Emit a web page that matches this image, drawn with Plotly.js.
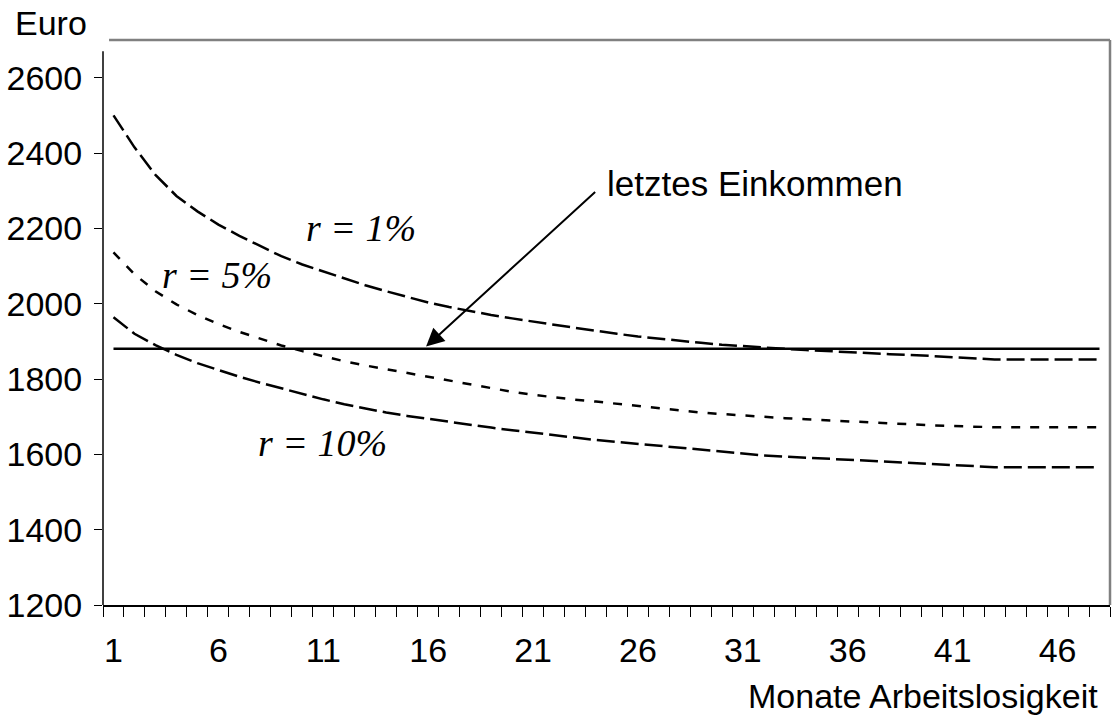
<!DOCTYPE html>
<html>
<head>
<meta charset="utf-8">
<script src="https://cdn.plot.ly/plotly-3.0.1.min.js"></script>
<style>
html,body{margin:0;padding:0;background:#fff;}
#chart{width:1114px;height:718px;}
</style>
</head>
<body>
<div id="chart"></div>
<script>
// Months of unemployment
const months = Array.from({length: 48}, (_, i) => i + 1);
const tickLabels = [1, 6, 11, 16, 21, 26, 31, 36, 41, 46];
const yTicks = [1200, 1400, 1600, 1800, 2000, 2200, 2400, 2600];

// r = 1%
const r1 = [2500, 2415, 2342, 2286, 2245, 2210, 2180, 2152, 2126, 2104,
            2085, 2066, 2049, 2033, 2017, 2003, 1991, 1980, 1970, 1961,
            1952, 1944, 1936, 1927, 1920, 1913, 1907, 1901, 1896, 1891,
            1887, 1883, 1880, 1877, 1874, 1871, 1869, 1866, 1864, 1861,
            1858, 1855, 1852, 1852, 1852, 1852, 1852, 1852];
// r = 5%
const r5 = [2136, 2078, 2033, 1998, 1970, 1946, 1925, 1906, 1889, 1874,
            1860, 1847, 1836, 1826, 1816, 1806, 1796, 1786, 1775, 1766,
            1758, 1751, 1745, 1740, 1734, 1728, 1722, 1716, 1711, 1707,
            1703, 1699, 1696, 1693, 1690, 1688, 1685, 1682, 1680, 1677,
            1675, 1673, 1672, 1672, 1672, 1672, 1672, 1672];
// r = 10%
const r10 = [1964, 1920, 1890, 1864, 1842, 1823, 1806, 1790, 1775, 1760,
             1746, 1733, 1721, 1711, 1702, 1694, 1686, 1678, 1671, 1664,
             1657, 1651, 1645, 1638, 1633, 1628, 1623, 1618, 1613, 1608,
             1602, 1597, 1594, 1591, 1588, 1586, 1583, 1580, 1577, 1574,
             1571, 1568, 1566, 1566, 1566, 1566, 1566, 1566];
// letztes Einkommen (last income)
const lastIncome = months.map(() => 1880);

const seriesNames = ['r = 1%', 'r = 5%', 'r = 10%', 'letztes Einkommen'];

const traces = [
  {x: months, y: r1, name: seriesNames[0], mode: 'lines',
   line: {color: '#000', width: 2.5, dash: '18px,6px'}},
  {x: months, y: r5, name: seriesNames[1], mode: 'lines',
   line: {color: '#000', width: 2.5, dash: '9px,10px'}},
  {x: months, y: r10, name: seriesNames[2], mode: 'lines',
   line: {color: '#000', width: 2.5, dash: '18px,6px'}},
  {x: months, y: lastIncome, name: seriesNames[3], mode: 'lines',
   line: {color: '#000', width: 2.5}}
];

const minorTicks = [];
for (let i = 0; i <= 48; i++) minorTicks.push(i + 0.5);

const serif = 'Liberation Serif, Times New Roman, serif';
const sans = 'Liberation Sans, Arial, sans-serif';

const layout = {
  width: 1114, height: 718,
  margin: {l: 103, r: 4, t: 40, b: 113},
  paper_bgcolor: '#fff', plot_bgcolor: '#fff',
  showlegend: false,
  font: {family: sans, color: '#000', size: 34},
  xaxis: {
    type: 'linear', range: [0.5, 48.5],
    tickvals: tickLabels, ticktext: tickLabels.map(String),
    ticks: 'outside', ticklen: 0, showgrid: false, zeroline: false,
    showline: true, linecolor: '#000', linewidth: 1.5,
    tickfont: {family: sans, size: 34, color: '#000'},
    ticklabelstandoff: 15,
    minor: {tickvals: minorTicks, ticks: 'outside', ticklen: 10, tickcolor: '#000', tickwidth: 1, showgrid: false}
  },
  yaxis: {
    range: [1200, 2700],
    tickvals: yTicks, ticktext: yTicks.map(String),
    ticks: 'outside', ticklen: 8, tickcolor: '#000', tickwidth: 1,
    showgrid: false, zeroline: false, showline: false,
    tickfont: {family: sans, size: 34, color: '#000'},
    ticklabelstandoff: 5
  },
  shapes: [
    {type: 'line', xref: 'paper', yref: 'y', x0: 0, x1: 0, y0: 1200, y1: 2670,
     line: {color: '#000', width: 1.5}},
    {type: 'line', xref: 'paper', yref: 'paper', x0: 0.006, x1: 1, y0: 1, y1: 1,
     line: {color: '#808080', width: 2.5}},
    {type: 'line', xref: 'paper', yref: 'paper', x0: 1, x1: 1, y0: 0, y1: 1,
     line: {color: '#808080', width: 2.5}}
  ],
  annotations: [
    {text: 'Euro', xref: 'paper', yref: 'paper', x: -0.0894, y: 1.03, xanchor: 'left', yanchor: 'middle',
     showarrow: false, font: {family: sans, size: 34, color: '#000'}},
    {text: 'Monate Arbeitslosigkeit', xref: 'paper', yref: 'paper', x: 0.99, y: -0.161, xanchor: 'right', yanchor: 'middle',
     showarrow: false, font: {family: sans, size: 34, color: '#000'}},
    {text: 'r = 1%', xref: 'x', yref: 'y', x: 12.8, y: 2200, showarrow: false,
     font: {family: serif, size: 38, color: '#000', style: 'italic'}},
    {text: 'r = 5%', xref: 'x', yref: 'y', x: 5.95, y: 2075, showarrow: false,
     font: {family: serif, size: 38, color: '#000', style: 'italic'}},
    {text: 'r = 10%', xref: 'x', yref: 'y', x: 10.94, y: 1630, showarrow: false,
     font: {family: serif, size: 38, color: '#000', style: 'italic'}},
    {text: 'letztes Einkommen', xref: 'x', yref: 'y', x: 31.6, y: 2319, showarrow: false,
     font: {family: sans, size: 35, color: '#000'}},
    {text: '', xref: 'x', yref: 'y', x: 15.9, y: 1886, axref: 'x', ayref: 'y', ax: 24.03, ay: 2300,
     showarrow: true, arrowhead: 2, arrowsize: 1.8, arrowwidth: 2, arrowcolor: '#000'}
  ]
};

Plotly.newPlot('chart', traces, layout, {staticPlot: true, displayModeBar: false});
</script>
</body>
</html>
